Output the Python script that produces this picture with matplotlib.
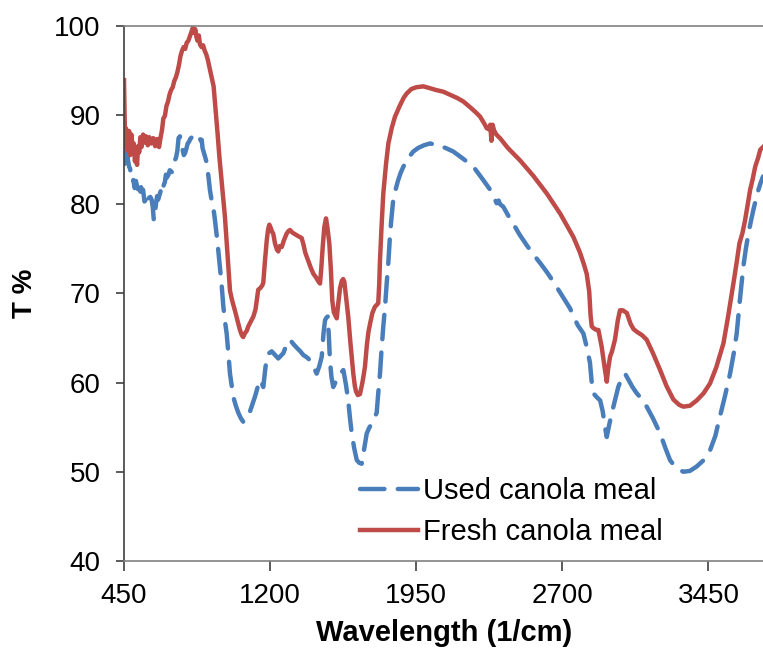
import matplotlib
matplotlib.use("Agg")
import matplotlib.pyplot as plt

plt.rcParams['font.family'] = ['Liberation Sans', 'DejaVu Sans']

# FTIR spectra: wavenumber (1/cm) and transmittance (%)
fresh_wn = [450, 453, 456, 460, 465, 470, 476, 482, 488, 494, 500, 506, 512, 517, 522, 528,
            534, 540, 548, 556, 563, 572, 580, 590, 600, 610, 620, 630, 638, 645, 652, 660,
            668, 676, 684, 692, 700, 708, 716, 724, 732, 740, 748, 756, 764, 772, 780, 788,
            796, 804, 810, 816, 822, 828, 834, 840, 848, 856, 864, 872, 880, 890, 900, 910,
            920, 930, 940, 950, 960, 968, 977, 985, 994, 1005, 1019, 1032, 1045, 1055, 1062,
            1070, 1080, 1088, 1100, 1114, 1125, 1139, 1150, 1160, 1165, 1173, 1183, 1190,
            1196, 1202, 1210, 1216, 1225, 1235, 1242, 1250, 1260, 1270, 1285, 1295, 1302,
            1315, 1330, 1345, 1362, 1372, 1380, 1388, 1400, 1410, 1422, 1435, 1446, 1456,
            1462, 1470, 1478, 1487, 1494, 1504, 1512, 1519, 1527, 1535, 1542, 1550, 1559,
            1568, 1575, 1581, 1590, 1601, 1612, 1627, 1635, 1641, 1650, 1661, 1672, 1680,
            1687, 1697, 1705, 1713, 1725, 1738, 1747, 1755, 1760, 1764, 1772, 1781, 1795,
            1807, 1825, 1841, 1865, 1885, 1901, 1925, 1950, 1986, 2020, 2050, 2089, 2130,
            2160, 2192, 2230, 2260, 2278, 2300, 2312, 2322, 2330, 2336, 2342, 2349, 2358,
            2370, 2380, 2420, 2483, 2550, 2620, 2690, 2757, 2790, 2810, 2825, 2838, 2845,
            2851, 2860, 2875, 2885, 2895, 2902, 2915, 2928, 2935, 2945, 2955, 2970, 2985,
            2996, 3010, 3031, 3050, 3065, 3082, 3110, 3133, 3165, 3202, 3235, 3270, 3300,
            3321, 3355, 3390, 3425, 3458, 3490, 3527, 3550, 3578, 3595, 3609, 3625, 3638,
            3650, 3664, 3677, 3690, 3705, 3716, 3730]
fresh_t = [93.9, 90.0, 86.5, 88.5, 87.5, 86.0, 88.2, 85.5, 87.8, 86.2, 86.8, 84.8, 85.5, 84.4,
           86.5, 85.8, 87.5, 86.4, 87.8, 86.9, 87.6, 86.6, 87.5, 86.8, 87.4, 86.5, 87.3, 86.4,
           87.5, 88.3, 89.6, 89.9, 91.0, 91.5, 92.3, 92.8, 93.1, 93.8, 94.2, 94.8, 95.6, 96.6,
           97.2, 97.6, 97.4, 98.1, 98.3, 98.8, 99.3, 99.8, 99.2, 99.6, 98.7, 98.3, 98.9, 97.9,
           97.6, 97.8, 97.2, 96.8, 96.2, 95.2, 94.2, 93.2, 90.6, 88.0, 85.2, 82.8, 80.5, 78.6,
           75.8, 73.2, 70.3, 69.2, 68.1, 67.0, 65.9, 65.3, 65.1, 65.5, 65.8, 66.3, 66.8, 67.4,
           68.2, 70.4, 70.6, 70.9, 71.2, 73.5, 76.0, 77.2, 77.7, 77.4, 76.9, 76.7, 75.6, 74.9,
           74.7, 75.3, 75.2, 75.9, 76.7, 77.0, 77.1, 76.8, 76.6, 76.4, 76.2, 75.4, 74.6, 74.1,
           73.4, 72.8, 72.2, 71.8, 71.4, 71.1, 72.6, 75.2, 77.4, 78.4, 77.4, 75.6, 72.6, 69.2,
           67.9, 67.5, 67.2, 68.9, 70.6, 71.4, 71.6, 71.3, 69.5, 67.4, 64.5, 61.0, 59.6, 59.0,
           58.6, 58.7, 59.8, 60.8, 61.8, 64.3, 65.7, 66.6, 67.8, 68.5, 68.7, 68.9, 71.0, 73.7,
           77.5, 81.2, 84.5, 86.8, 88.6, 89.8, 91.0, 91.9, 92.4, 92.9, 93.1, 93.2, 93.0, 92.8,
           92.6, 92.2, 91.9, 91.5, 90.8, 90.2, 89.8, 89.0, 88.5, 88.4, 88.9, 87.1, 88.9, 88.3,
           87.9, 87.6, 87.4, 86.3, 84.9, 83.2, 81.2, 78.9, 76.3, 74.6, 73.3, 72.2, 70.2, 67.5,
           66.3, 66.1, 65.9, 65.9, 64.8, 64.0, 62.0, 60.1, 61.5, 62.9, 63.5, 64.8, 67.0, 68.1,
           68.1, 67.8, 66.6, 66.0, 65.7, 65.3, 64.8, 63.3, 61.4, 59.6, 58.1, 57.5, 57.3, 57.4,
           58.0, 58.8, 59.9, 61.7, 64.4, 67.3, 71.1, 73.5, 75.6, 76.8, 78.2, 79.8, 81.6, 82.8,
           84.2, 85.2, 86.1, 86.4]

used_wn = [450, 452, 455, 460, 465, 470, 476, 481, 487, 493, 498, 505, 511, 517, 523, 530,
           537, 543, 548, 555, 563, 570, 578, 585, 592, 598, 603, 609, 615, 620, 625, 632,
           640, 646, 652, 660, 665, 671, 678, 685, 695, 700, 708, 717, 724, 730, 737, 744,
           750, 757, 763, 770, 777, 784, 790, 798, 806, 814, 822, 830, 838, 845, 849, 853,
           857, 865, 875, 885, 891, 900, 908, 917, 930, 942, 951, 960, 970, 977, 986, 994,
           1003, 1011, 1024, 1037, 1050, 1062, 1075, 1088, 1105, 1122, 1135, 1148, 1157,
           1165, 1174, 1183, 1195, 1208, 1225, 1242, 1255, 1268, 1285, 1302, 1320, 1337,
           1355, 1370, 1390, 1405, 1422, 1439, 1452, 1465, 1474, 1482, 1490, 1496, 1502,
           1507, 1515, 1524, 1537, 1550, 1563, 1576, 1589, 1601, 1610, 1619, 1632, 1645,
           1658, 1670, 1683, 1696, 1708, 1721, 1734, 1747, 1755, 1764, 1772, 1781, 1790,
           1798, 1807, 1814, 1821, 1832, 1845, 1856, 1870, 1884, 1910, 1935, 1960, 1990,
           2021, 2060, 2100, 2140, 2190, 2243, 2270, 2294, 2330, 2363, 2373, 2380, 2397,
           2420, 2448, 2480, 2517, 2550, 2586, 2620, 2654, 2700, 2740, 2757, 2780, 2808,
           2825, 2842, 2850, 2859, 2875, 2894, 2907, 2919, 2928, 2940, 2953, 2970, 2987,
           3005, 3022, 3040, 3060, 3082, 3110, 3133, 3165, 3202, 3230, 3253, 3285, 3321,
           3355, 3390, 3425, 3458, 3485, 3509, 3535, 3561, 3580, 3595, 3612, 3629, 3642,
           3655, 3668, 3680, 3692, 3705, 3718, 3730]
used_t = [86.5, 84.5, 85.6, 86.2, 86.6, 85.0, 84.2, 84.0, 83.1, 82.5, 82.7, 81.8, 82.6, 82.0,
          81.6, 80.8, 81.9, 81.4, 81.6, 80.3, 80.5, 79.9, 80.7, 80.8, 80.5, 79.6, 78.2, 79.0,
          80.2, 80.9, 80.5, 81.0, 81.6, 82.4, 82.0, 82.5, 83.3, 83.0, 83.3, 83.8, 83.6, 84.5,
          84.8, 85.2, 86.0, 87.4, 87.6, 86.7, 86.2, 85.5, 85.7, 86.2, 86.8, 87.0, 87.3, 87.5,
          87.7, 87.6, 87.3, 87.5, 87.4, 87.1, 87.2, 86.3, 86.0, 85.4, 84.6, 82.8, 81.6, 80.4,
          79.7, 78.2, 75.7, 73.0, 71.0, 68.5, 66.6, 65.5, 63.2, 61.0, 59.6, 58.4, 57.4, 56.6,
          56.0, 55.6, 55.9, 56.2, 57.3, 58.4, 59.4, 60.3, 59.9, 59.5, 61.3, 62.9, 63.3, 63.5,
          63.1, 62.7, 63.0, 63.3, 64.3, 64.8, 64.3, 63.9, 63.5, 63.1, 62.8, 62.5, 61.8, 61.0,
          61.8, 62.9, 65.5, 67.0, 67.3, 67.4, 65.0, 62.5, 60.6, 59.5, 60.1, 60.7, 61.1, 61.4,
          59.8, 58.0, 56.0, 54.3, 52.6, 51.3, 51.0, 50.9, 52.6, 54.3, 54.9, 55.4, 56.0, 56.6,
          58.8, 61.0, 63.7, 66.3, 68.5, 71.0, 73.5, 76.0, 78.0, 80.5, 81.7, 82.6, 83.5, 84.2,
          85.2, 85.9, 86.3, 86.6, 86.8, 86.6, 86.3, 85.9, 85.1, 84.2, 83.4, 82.7, 81.6, 80.1,
          80.4, 80.0, 79.7, 78.8, 77.8, 76.6, 75.4, 74.4, 73.4, 72.4, 71.3, 69.7, 68.3, 67.4,
          66.4, 65.5, 64.0, 62.2, 60.2, 58.8, 58.4, 58.0, 56.8, 55.0, 53.9, 55.2, 56.5, 58.0,
          59.5, 60.5, 61.0, 60.3, 59.5, 58.8, 58.1, 57.3, 56.0, 54.3, 52.6, 51.3, 50.4, 50.0,
          50.1, 50.6, 51.3, 52.4, 54.0, 56.2, 58.5, 61.0, 63.3, 65.5, 69.4, 73.0, 75.0, 76.7,
          78.1, 79.3, 80.4, 81.5, 82.4, 83.1]

x_ticks = [450, 1200, 1950, 2700, 3450]
y_ticks = [40, 50, 60, 70, 80, 90, 100]

BLUE = '#4a7ebb'
RED = '#be4b48'

W, H = 763, 653
fig = plt.figure(figsize=(W / 100, H / 100), dpi=100)
ax = fig.add_axes([124 / W, 92 / H, 1 - 124 / W, (561 - 25.7) / H])

ax.plot(used_wn, used_t, color=BLUE, lw=3.2, dashes=(5.5, 3.0),
        dash_capstyle='round', solid_capstyle='round', label='Used canola meal')
ax.plot(fresh_wn, fresh_t, color=RED, lw=3.2, solid_joinstyle='round',
        label='Fresh canola meal')

ax.set_xlim(450, 3730)
ax.set_ylim(40, 100)
ax.set_xticks(x_ticks)
ax.set_yticks(y_ticks)

for side in ['left', 'bottom', 'top']:
    ax.spines[side].set_linewidth(1.2)
ax.spines['left'].set_color('#404040')
ax.spines['bottom'].set_color('#808080')
ax.spines['top'].set_color('#808080')
ax.spines['right'].set_visible(False)

ax.tick_params(axis='x', direction='out', length=7, width=1.2, color='#404040',
               labelsize=20, pad=9)
ax.tick_params(axis='y', direction='out', length=6, width=1.2, color='#404040',
               labelsize=20, pad=11)

fig.text(25 / W, 1 - 293 / H, 'T %', rotation=90, ha='center', va='center',
         fontsize=20, fontweight='bold')
fig.text(444 / W, 1 - 633 / H, 'Wavelength (1/cm)', ha='center', va='center',
         fontsize=21, fontweight='bold')

leg = ax.legend(loc='upper left', bbox_to_anchor=(360 / W, 1 - 477 / H),
                bbox_transform=fig.transFigure, frameon=False, fontsize=21,
                handlelength=2.0, handletextpad=0.15, labelspacing=0.45,
                borderpad=0, borderaxespad=0)

fig.savefig('out.png', dpi=100)
